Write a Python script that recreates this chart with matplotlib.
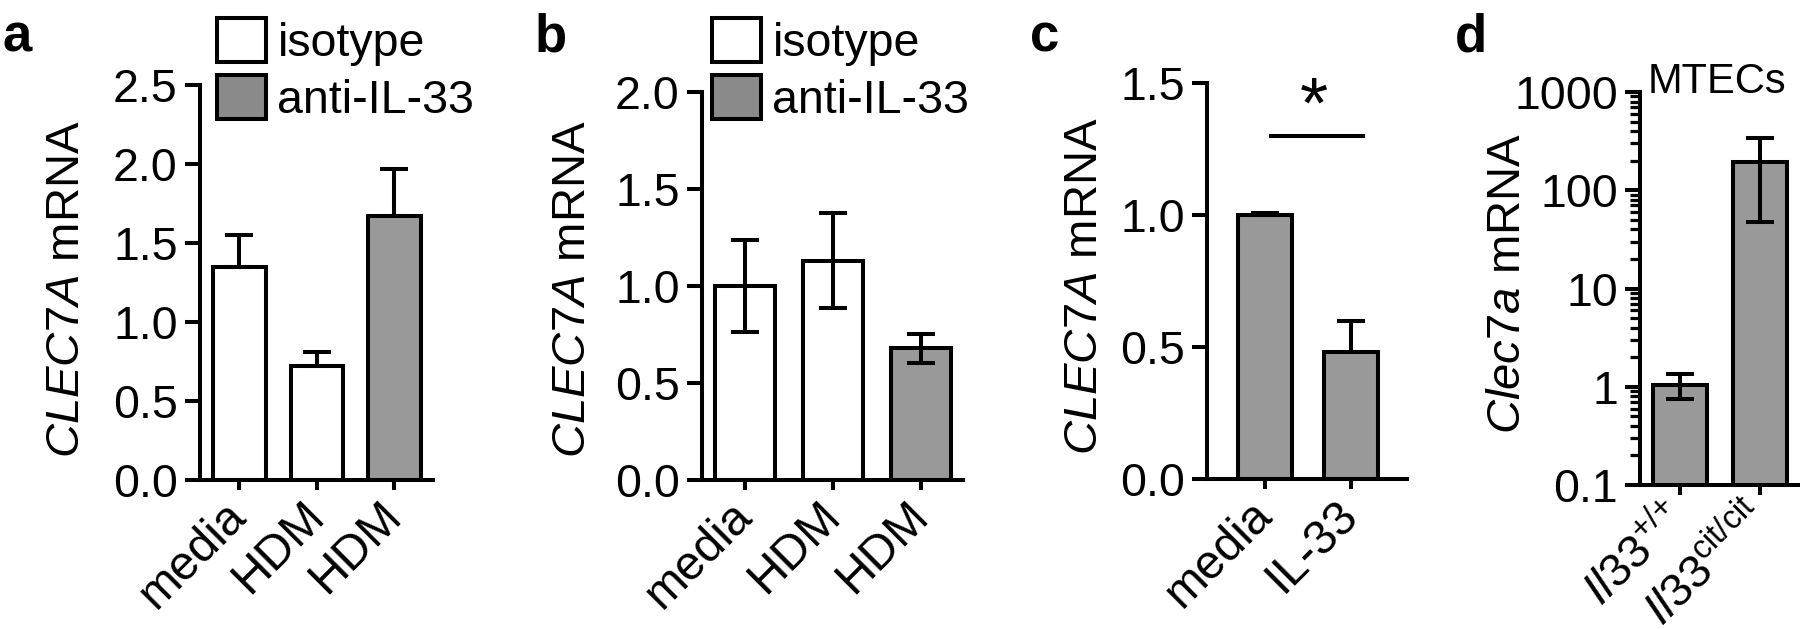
import matplotlib
matplotlib.use('Agg')
import matplotlib.pyplot as plt
from matplotlib.patches import Patch
from matplotlib.ticker import FixedLocator, FixedFormatter, LogLocator, NullFormatter
import numpy as np

plt.rcParams['font.family'] = ['Liberation Sans', 'DejaVu Sans']
plt.rcParams['mathtext.fontset'] = 'custom'
plt.rcParams['mathtext.rm'] = 'Liberation Sans'
plt.rcParams['mathtext.it'] = 'Liberation Sans:italic'
plt.rcParams['mathtext.bf'] = 'Liberation Sans:bold'

# panel a
a_labels = ['media', 'HDM', 'HDM']
a_values = [1.35, 0.72, 1.67]
a_err = [0.20, 0.09, 0.30]
a_groups = ['isotype', 'isotype', 'anti-IL-33']

# panel b
b_labels = ['media', 'HDM', 'HDM']
b_values = [1.00, 1.13, 0.68]
b_err = [0.235, 0.245, 0.075]
b_groups = ['isotype', 'isotype', 'anti-IL-33']

# panel c
c_labels = ['media', 'IL-33']
c_values = [1.0, 0.48]
c_err = [0.006, 0.12]

# panel d (log scale)
d_labels = [r'$\mathit{Il33}^{{+}/{+}}$', r'$\mathit{Il33}^{\mathrm{cit/cit}}$']
d_values = [1.05, 195]
d_err = [0.30, 148]
d_ticks = [0.1, 1, 10, 100, 1000]
d_ticklabels = ['0.1', '1', '10', '100', '1000']

W, H = 1800, 629
LW = 2.9
FS = 33.5
GRAY = '#999999'
colors = {'isotype': 'white', 'anti-IL-33': GRAY}

fig = plt.figure(figsize=(W / 100, H / 100), dpi=100)


def px_axes(left, top, right, bottom):
    return fig.add_axes([left / W, 1 - bottom / H, (right - left) / W, (bottom - top) / H])


def style(ax):
    for s in ['top', 'right']:
        ax.spines[s].set_visible(False)
    for s in ['left', 'bottom']:
        ax.spines[s].set_linewidth(LW)
        ax.spines[s].set_capstyle('projecting')
    ax.tick_params(axis='y', direction='out', length=11, width=LW, labelsize=FS, pad=5)
    ax.tick_params(axis='x', direction='out', length=7, width=LW, labelsize=FS + 1, pad=14)


def bars(ax, values, err, facecolors, width, lower=True):
    x = np.arange(len(values))
    ax.bar(x, values, width=width, color=facecolors, edgecolor='black', linewidth=LW, zorder=2)
    yerr = [err if lower else [0] * len(err), err]
    ax.errorbar(x, values, yerr=yerr, fmt='none', ecolor='black', elinewidth=LW,
                capsize=10, capthick=LW, zorder=3)
    return x


def xlabels(ax, x, labels):
    ax.set_xticks(x)
    ax.set_xticklabels(labels, rotation=45, ha='right', va='center', rotation_mode='anchor')


def ylabel(ax, text, xpx, ypx):
    ax.set_ylabel(text, fontsize=34, va='center')
    ax.yaxis.set_label_coords(xpx / W, 1 - ypx / H, transform=fig.transFigure)


# ---- a
ax = px_axes(200, 85, 433, 480)
style(ax)
x = bars(ax, a_values, a_err, [colors[g] for g in a_groups], 0.68, lower=False)
ax.set_xlim(-0.51, 2.50)
ax.set_ylim(0, 2.5)
ax.set_yticks([0, 0.5, 1.0, 1.5, 2.0, 2.5])
ax.set_yticklabels(['0.0', '0.5', '1.0', '1.5', '2.0', '2.5'])
xlabels(ax, x, a_labels)
ylabel(ax, r'$\mathit{CLEC7A}$ mRNA', 67, 289)

# ---- b
ax = px_axes(702, 92, 963, 480)
style(ax)
x = bars(ax, b_values, b_err, [colors[g] for g in b_groups], 0.68)
ax.set_xlim(-0.49, 2.48)
ax.set_ylim(0, 2.0)
ax.set_yticks([0, 0.5, 1.0, 1.5, 2.0])
ax.set_yticklabels(['0.0', '0.5', '1.0', '1.5', '2.0'])
xlabels(ax, x, b_labels)
ylabel(ax, r'$\mathit{CLEC7A}$ mRNA', 573, 289)

# ---- c
ax = px_axes(1207, 83, 1407, 479)
style(ax)
x = bars(ax, c_values, c_err, [GRAY, GRAY], 0.63, lower=False)
ax.set_xlim(-0.67, 1.65)
ax.set_ylim(0, 1.5)
ax.set_yticks([0, 0.5, 1.0, 1.5])
ax.set_yticklabels(['0.0', '0.5', '1.0', '1.5'])
xlabels(ax, x, c_labels)
ylabel(ax, r'$\mathit{CLEC7A}$ mRNA', 1085, 286)
sig_x = [0.05, 1.16]
sig_y = 1.3
ax.plot(sig_x, [sig_y, sig_y], color='black', lw=LW, solid_capstyle='butt', clip_on=False)
ax.text(np.mean(sig_x) - 0.03, 1.40, '*', fontsize=52, ha='center', va='center')

# ---- d
ax = px_axes(1640, 92, 1799, 485)
style(ax)
ax.set_yscale('log')
x = bars(ax, d_values, d_err, [GRAY, GRAY], 0.67)
ax.set_xlim(-0.49, 1.48)
ax.set_ylim(0.1, 1000)
ax.yaxis.set_major_locator(FixedLocator(d_ticks))
ax.yaxis.set_major_formatter(FixedFormatter(d_ticklabels))
ax.yaxis.set_minor_locator(LogLocator(base=10, subs=np.arange(2, 10)))
ax.yaxis.set_minor_formatter(NullFormatter())
ax.tick_params(axis='y', which='minor', direction='out', length=7, width=LW * 0.8)
xlabels(ax, x, d_labels)
ax.tick_params(axis='x', labelsize=FS, pad=12)
ylabel(ax, r'$\mathit{Clec7a}$ mRNA', 1508, 283)
fig.text(1717 / W, 1 - 93 / H, 'MTECs', fontsize=30, ha='center', va='baseline')

# ---- legends
for xpx in [217, 712]:
    handles = [Patch(facecolor='white', edgecolor='black', linewidth=LW, label='isotype'),
               Patch(facecolor='#8a8a8a', edgecolor='black', linewidth=LW, label='anti-IL-33')]
    fig.legend(handles=handles, loc='upper left', bbox_to_anchor=(xpx / W, 1 - 18 / H),
               frameon=False, borderpad=0, borderaxespad=0, handlelength=1.05,
               handleheight=1.08, handletextpad=0.25, labelspacing=0.2, fontsize=FS)

# ---- panel letters
for letter, xpx in [('a', 2), ('b', 535), ('c', 1030), ('d', 1455)]:
    fig.text(xpx / W, 1 - 52 / H, letter, fontsize=38, fontweight='bold', va='baseline')

fig.savefig('out.png', dpi=100)
